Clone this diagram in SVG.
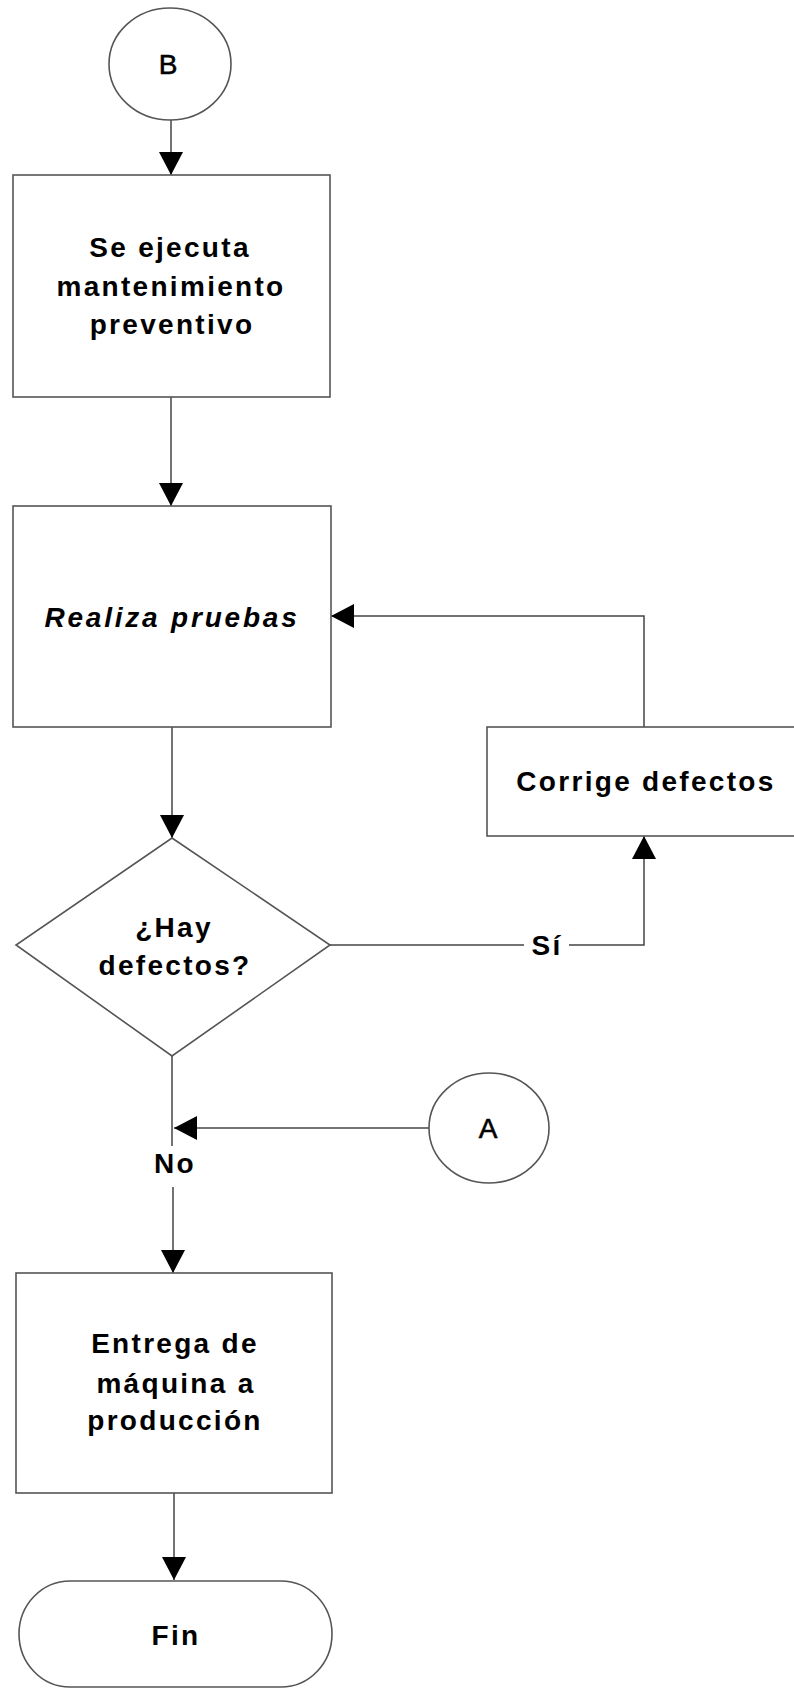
<svg xmlns="http://www.w3.org/2000/svg" width="794" height="1689" viewBox="0 0 794 1689">
  <style>
    .shape { fill: #ffffff; stroke: #555555; stroke-width: 1.6; }
    .link { fill: none; stroke: #444444; stroke-width: 1.5; }
    .label { font-family: "Liberation Sans", Arial, sans-serif; font-size: 28px; font-weight: bold; letter-spacing: 2.3px; fill: #000000; text-anchor: middle; }
    .conn { font-family: "Liberation Sans", Arial, sans-serif; font-size: 28px; font-weight: normal; fill: #000000; text-anchor: middle; stroke: #000000; stroke-width: 0.6px; }
    .italic { font-style: italic; letter-spacing: 2.8px; }
  </style>
  <defs>
    <marker id="arrow" markerUnits="userSpaceOnUse" markerWidth="23" markerHeight="24" refX="23" refY="12" orient="auto">
      <path d="M0,0 L23,12 L0,24 Z" fill="#000000"/>
    </marker>
  </defs>
  <rect width="794" height="1689" fill="#ffffff"/>

  <!-- connectors -->
  <g id="connectors">
    <path class="link" d="M171,120 V175" marker-end="url(#arrow)"/>
    <path class="link" d="M171,397 V506" marker-end="url(#arrow)"/>
    <path class="link" d="M172,727 V838" marker-end="url(#arrow)"/>
    <path class="link" d="M644,727 V616 H331" marker-end="url(#arrow)"/>
    <path class="link" d="M330,945 H524"/>
    <path class="link" d="M569,945 H644 V836" marker-end="url(#arrow)"/>
    <text class="label" x="547" y="955">Sí</text>
    <path class="link" d="M172,1056 V1146"/>
    <path class="link" d="M173,1187 V1273" marker-end="url(#arrow)"/>
    <text class="label" x="175" y="1173">No</text>
    <path class="link" d="M429,1128 H174" marker-end="url(#arrow)"/>
    <path class="link" d="M174,1493 V1580" marker-end="url(#arrow)"/>
  </g>

  <!-- connector B -->
  <g id="node-b">
    <ellipse class="shape" cx="170" cy="64" rx="61" ry="56"/>
    <text class="conn" x="168" y="74">B</text>
  </g>

  <!-- preventive maintenance -->
  <g id="node-mantenimiento">
    <rect class="shape" x="13" y="175" width="317" height="222"/>
    <text class="label" x="170" y="257">Se ejecuta</text>
    <text class="label" x="171" y="296">mantenimiento</text>
    <text class="label" x="172" y="334">preventivo</text>
  </g>

  <!-- tests -->
  <g id="node-pruebas">
    <rect class="shape" x="13" y="506" width="318" height="221"/>
    <text class="label italic" x="172" y="627">Realiza pruebas</text>
  </g>

  <!-- fix defects -->
  <g id="node-corrige">
    <rect class="shape" x="487" y="727" width="310" height="109"/>
    <text class="label" x="646" y="791">Corrige defectos</text>
  </g>

  <!-- decision -->
  <g id="node-decision">
    <polygon class="shape" points="172,838 330,945 172,1056 16,945"/>
    <text class="label" x="174" y="937">¿Hay</text>
    <text class="label" x="175" y="975">defectos?</text>
  </g>

  <!-- connector A -->
  <g id="node-a">
    <ellipse class="shape" cx="489" cy="1128" rx="60" ry="55"/>
    <text class="conn" x="488" y="1138">A</text>
  </g>

  <!-- hand-over -->
  <g id="node-entrega">
    <rect class="shape" x="16" y="1273" width="316" height="220"/>
    <text class="label" x="175" y="1353">Entrega de</text>
    <text class="label" x="176" y="1393">máquina a</text>
    <text class="label" x="175" y="1430">producción</text>
  </g>

  <!-- end -->
  <g id="node-fin">
    <rect class="shape" x="19" y="1581" width="313" height="106" rx="51" ry="53"/>
    <text class="label" x="176" y="1645">Fin</text>
  </g>
</svg>
